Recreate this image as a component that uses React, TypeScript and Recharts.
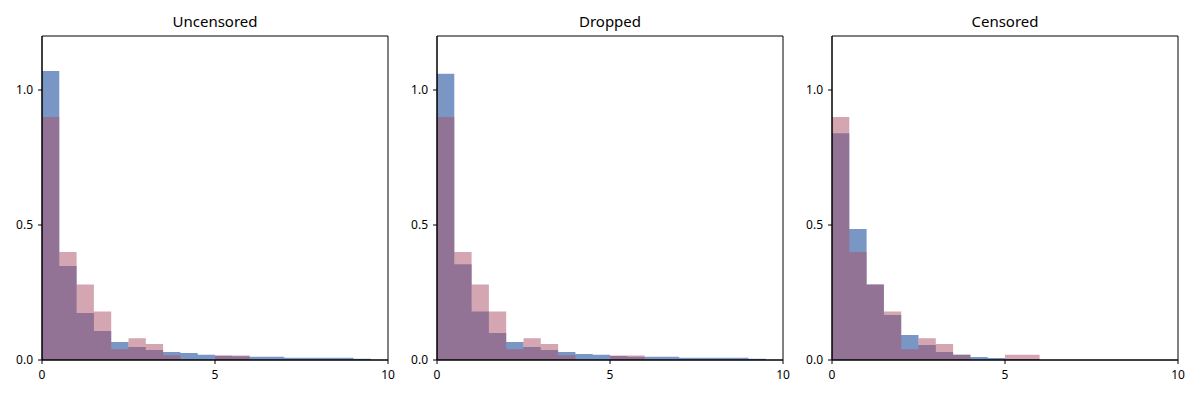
import React from 'react';
import { ComposedChart, Area, XAxis, YAxis, ReferenceArea } from 'recharts';

// histogram bin edges (width 0.5), the value at an edge is the height of the bin that starts there
const binEdges = [0, 0.5, 1, 1.5, 2, 2.5, 3, 3.5, 4, 4.5, 5, 5.5, 6, 6.5, 7, 7.5, 8, 8.5, 9, 9.5, 10];

const uncensoredBlue = [1.07, 0.348, 0.174, 0.107, 0.067, 0.048, 0.037, 0.03, 0.026, 0.019, 0.016, 0.014, 0.012, 0.012, 0.008, 0.008, 0.008, 0.008, 0.005, 0, 0];
const uncensoredPink = [0.9, 0.4, 0.28, 0.18, 0.04, 0.081, 0.059, 0.018, 0, 0, 0.017, 0.017, 0, 0, 0, 0, 0, 0, 0, 0, 0];

const droppedBlue = [1.06, 0.355, 0.18, 0.1, 0.067, 0.048, 0.037, 0.03, 0.022, 0.019, 0.015, 0.012, 0.012, 0.012, 0.008, 0.008, 0.008, 0.008, 0.005, 0, 0];
const droppedPink = [0.9, 0.4, 0.28, 0.18, 0.04, 0.081, 0.059, 0.018, 0, 0, 0.017, 0.017, 0, 0, 0, 0, 0, 0, 0, 0, 0];

const censoredBlue = [0.84, 0.485, 0.28, 0.167, 0.093, 0.056, 0.03, 0.019, 0.011, 0.007, 0.004, 0.004, 0, 0, 0, 0, 0, 0, 0, 0, 0];
const censoredPink = [0.9, 0.4, 0.28, 0.18, 0.04, 0.081, 0.059, 0.019, 0, 0, 0.019, 0.019, 0, 0, 0, 0, 0, 0, 0, 0, 0];

const xTicks = [0, 5, 10];
const yTicks = [0, 0.5, 1.0];

const panels = [
  { title: 'Uncensored', blue: uncensoredBlue, pink: uncensoredPink },
  { title: 'Dropped', blue: droppedBlue, pink: droppedPink },
  { title: 'Censored', blue: censoredBlue, pink: censoredPink },
];

const FONT = '"Noto Sans", sans-serif';
const tickStyle = { fontSize: 12, fill: '#000', fontFamily: FONT };

const Panel = ({ title, blue, pink }: { title: string; blue: number[]; pink: number[] }) => {
  const data = binEdges.map((x, i) => ({ x, blue: blue[i], pink: pink[i] }));
  return (
    <div style={{ position: 'relative', width: 395, height: 400 }}>
      <div
        style={{
          position: 'absolute', left: 42, width: 346, top: 10, textAlign: 'center',
          fontFamily: FONT, fontSize: 15, lineHeight: '22px', color: '#000',
        }}
      >
        {title}
      </div>
      <ComposedChart width={395} height={400} data={data} margin={{ top: 36, right: 7, bottom: 10, left: 0 }}>
        <XAxis
          dataKey="x" type="number" domain={[0, 10]} ticks={xTicks} allowDataOverflow
          height={30} tickSize={4} tickMargin={6} stroke="#000" tick={tickStyle} interval={0}
        />
        <YAxis
          type="number" domain={[0, 1.2]} ticks={yTicks} allowDataOverflow
          width={42} tickSize={4} tickMargin={5} stroke="#000" tick={tickStyle}
          tickFormatter={(v: number) => v.toFixed(1)}
        />
        <Area
          type="stepAfter" dataKey="blue" stroke="none" fill="#4c72b0" fillOpacity={0.74}
          dot={false} activeDot={false} isAnimationActive={false}
        />
        <Area
          type="stepAfter" dataKey="pink" stroke="none" fill="#a94d65" fillOpacity={0.5}
          dot={false} activeDot={false} isAnimationActive={false}
        />
        <ReferenceArea x1={0} x2={10} y1={0} y2={1.2} fill="none" stroke="#000" strokeWidth={1} ifOverflow="visible" />
      </ComposedChart>
    </div>
  );
};

export default function App() {
  return (
    <div style={{ position: 'absolute', left: 0, top: 0, width: 1200, height: 400, background: '#fff', display: 'flex' }}>
      {panels.map((p) => (
        <Panel key={p.title} title={p.title} blue={p.blue} pink={p.pink} />
      ))}
    </div>
  );
}
